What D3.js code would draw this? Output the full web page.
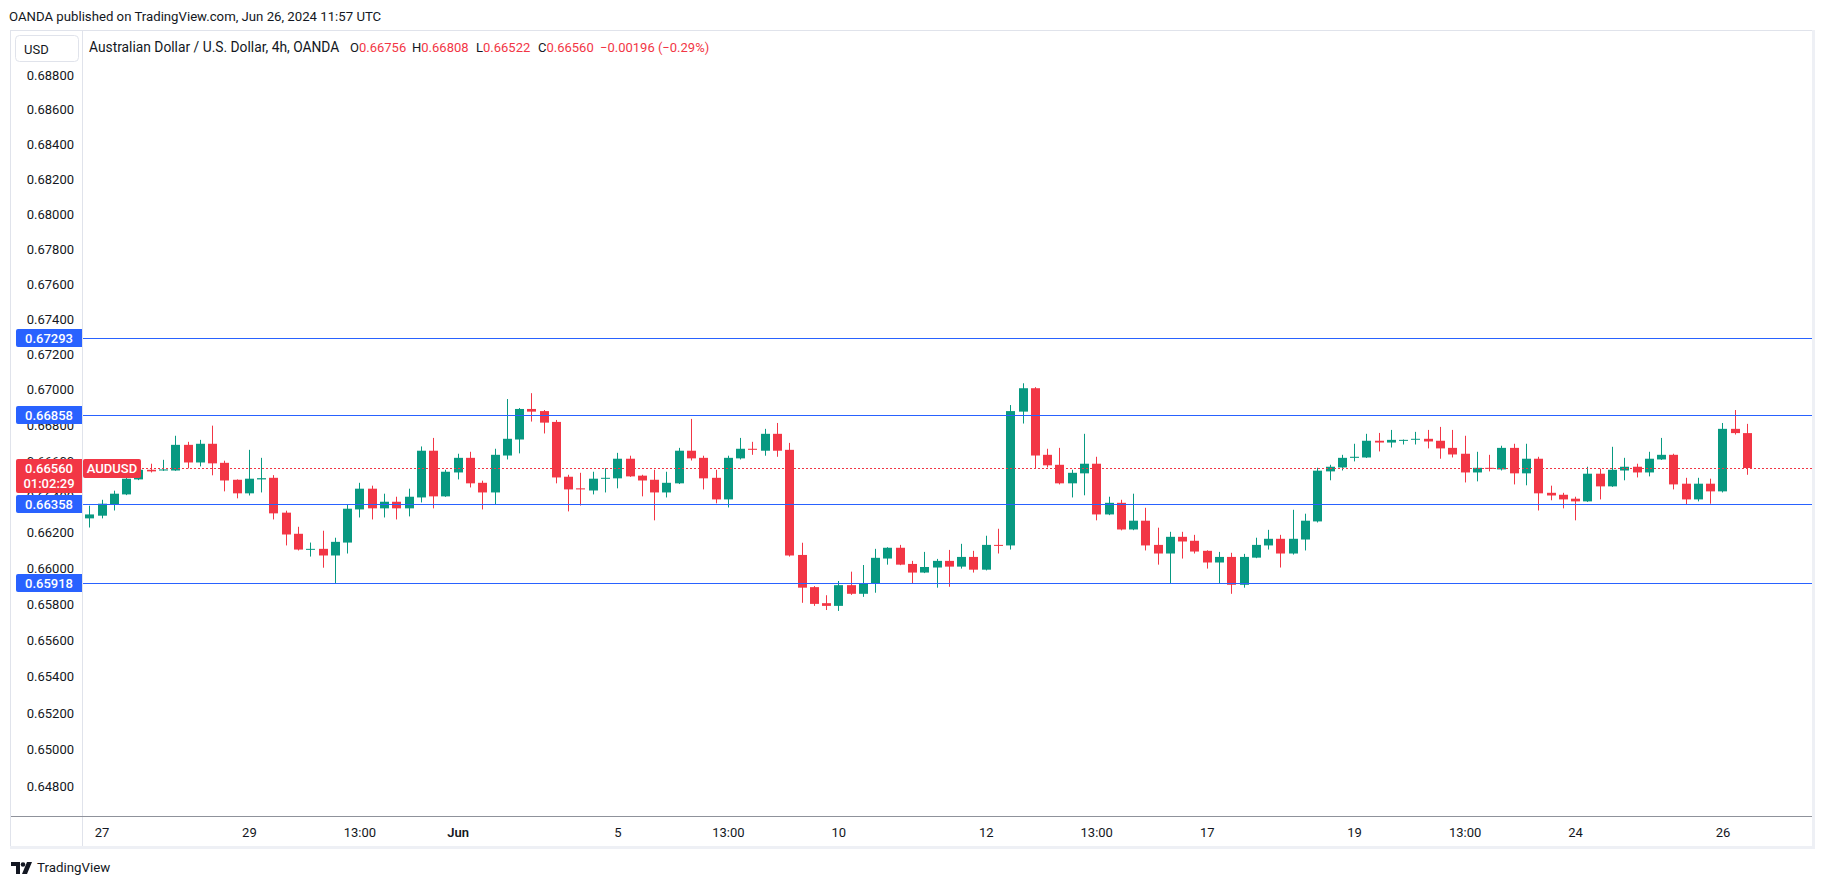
<!DOCTYPE html>
<html><head><meta charset="utf-8">
<script src="https://cdn.jsdelivr.net/npm/d3@7"></script>
<style>html,body{margin:0;padding:0;background:#fff;}svg{display:block;font-family:Roboto,"Noto Sans",sans-serif;}</style>
</head><body><svg id="c" width="1825" height="886"></svg>
<script>
// ---- data (AUDUSD 4h, OANDA) ----
const opens=[0.66278,0.66293,0.66358,0.66412,0.66496,0.66550,0.66546,0.66546,0.66690,0.66591,
0.66696,0.66589,0.66494,0.66418,0.66496,0.66505,0.66310,0.66192,0.66104,0.66108,
0.66071,0.66143,0.66328,0.66444,0.66334,0.66371,0.66334,0.66395,0.66657,0.66401,
0.66535,0.66617,0.66477,0.66423,0.66630,0.66720,0.66892,0.66880,0.66819,0.66511,
0.66446,0.66434,0.66500,0.66502,0.66612,0.66517,0.66494,0.66423,0.66474,0.66657,
0.66617,0.66505,0.66384,0.66614,0.66668,0.66657,0.66752,0.66662,0.66074,0.65895,
0.65806,0.65791,0.65906,0.65858,0.65914,0.66054,0.66114,0.66024,0.65976,0.66004,
0.66041,0.66009,0.66063,0.65992,0.66130,0.66127,0.66877,0.67009,0.66634,0.66578,
0.66474,0.66530,0.66584,0.66300,0.66365,0.66216,0.66265,0.66130,0.66082,0.66175,
0.66153,0.66097,0.66032,0.66063,0.65908,0.66059,0.66127,0.66164,0.66082,0.66160,
0.66261,0.66541,0.66563,0.66617,0.66619,0.66713,0.66703,0.66714,0.66720,0.66724,
0.66713,0.66673,0.66640,0.66535,0.66561,0.66552,0.66673,0.66530,0.66612,0.66421,
0.66410,0.66388,0.66373,0.66528,0.66457,0.66546,0.66567,0.66535,0.66608,0.66634,
0.66472,0.66384,0.66472,0.66429,0.66780,0.66756];
const highs=[0.66349,0.66382,0.66433,0.66513,0.66565,0.66584,0.66606,0.66741,0.66707,0.66718,
0.66798,0.66601,0.66496,0.66662,0.66617,0.66520,0.66321,0.66231,0.66143,0.66209,
0.66170,0.66356,0.66477,0.66461,0.66416,0.66399,0.66444,0.66681,0.66729,0.66550,
0.66640,0.66651,0.66489,0.66668,0.66948,0.66897,0.66981,0.66886,0.66830,0.66522,
0.66533,0.66539,0.66559,0.66645,0.66629,0.66522,0.66550,0.66539,0.66673,0.66836,
0.66629,0.66550,0.66629,0.66729,0.66707,0.66780,0.66813,0.66701,0.66142,0.65901,
0.65850,0.65929,0.65981,0.66018,0.66108,0.66117,0.66130,0.66041,0.66091,0.66052,
0.66102,0.66136,0.66097,0.66181,0.66220,0.66914,0.67037,0.67015,0.66668,0.66673,
0.66550,0.66752,0.66623,0.66399,0.66382,0.66416,0.66337,0.66226,0.66203,0.66203,
0.66186,0.66100,0.66091,0.66086,0.66080,0.66170,0.66214,0.66186,0.66326,0.66304,
0.66561,0.66578,0.66634,0.66696,0.66752,0.66757,0.66774,0.66720,0.66763,0.66774,
0.66791,0.66774,0.66741,0.66651,0.66634,0.66685,0.66696,0.66696,0.66623,0.66461,
0.66421,0.66399,0.66567,0.66556,0.66679,0.66617,0.66584,0.66651,0.66729,0.66640,
0.66505,0.66505,0.66500,0.66813,0.66886,0.66808];
const lows=[0.66227,0.66278,0.66322,0.66408,0.66492,0.66535,0.66544,0.66544,0.66558,0.66569,
0.66519,0.66429,0.66390,0.66406,0.66423,0.66272,0.66127,0.66099,0.66065,0.66003,
0.65918,0.66082,0.66283,0.66272,0.66283,0.66272,0.66289,0.66367,0.66334,0.66398,
0.66496,0.66451,0.66328,0.66358,0.66608,0.66642,0.66821,0.66754,0.66474,0.66317,
0.66350,0.66412,0.66423,0.66446,0.66510,0.66401,0.66267,0.66395,0.66470,0.66602,
0.66440,0.66362,0.66339,0.66608,0.66634,0.66629,0.66623,0.66065,0.65808,0.65791,
0.65768,0.65763,0.65852,0.65841,0.65864,0.66020,0.66017,0.65916,0.65973,0.65892,
0.65897,0.65998,0.65976,0.65988,0.66082,0.66104,0.66810,0.66558,0.66563,0.66468,
0.66395,0.66407,0.66267,0.66296,0.66211,0.66212,0.66099,0.66020,0.65916,0.66054,
0.66082,0.65998,0.65916,0.65858,0.65892,0.66056,0.66104,0.66004,0.66076,0.66099,
0.66255,0.66491,0.66546,0.66597,0.66616,0.66653,0.66675,0.66692,0.66692,0.66670,
0.66612,0.66619,0.66479,0.66485,0.66541,0.66546,0.66468,0.66463,0.66322,0.66379,
0.66334,0.66267,0.66370,0.66384,0.66454,0.66491,0.66507,0.66513,0.66605,0.66440,
0.66356,0.66373,0.66360,0.66423,0.66748,0.66522];
const closes=[0.66300,0.66360,0.66416,0.66500,0.66550,0.66541,0.66552,0.66690,0.66591,0.66696,
0.66586,0.66490,0.66418,0.66500,0.66503,0.66306,0.66188,0.66104,0.66108,0.66071,
0.66147,0.66332,0.66444,0.66334,0.66371,0.66334,0.66399,0.66657,0.66401,0.66539,
0.66617,0.66474,0.66423,0.66634,0.66724,0.66892,0.66877,0.66815,0.66507,0.66440,
0.66440,0.66500,0.66505,0.66612,0.66513,0.66490,0.66423,0.66477,0.66657,0.66614,
0.66502,0.66384,0.66617,0.66668,0.66662,0.66752,0.66657,0.66071,0.65892,0.65802,
0.65791,0.65906,0.65858,0.65918,0.66058,0.66114,0.66020,0.65976,0.66007,0.66041,
0.66009,0.66063,0.65992,0.66130,0.66127,0.66880,0.67009,0.66630,0.66575,0.66474,
0.66533,0.66584,0.66300,0.66365,0.66216,0.66265,0.66127,0.66082,0.66175,0.66149,
0.66093,0.66032,0.66063,0.65908,0.66063,0.66130,0.66164,0.66082,0.66164,0.66265,
0.66545,0.66567,0.66617,0.66623,0.66713,0.66703,0.66718,0.66718,0.66724,0.66709,
0.66670,0.66636,0.66535,0.66561,0.66558,0.66673,0.66530,0.66612,0.66418,0.66406,
0.66384,0.66373,0.66528,0.66457,0.66550,0.66567,0.66535,0.66612,0.66634,0.66468,
0.66384,0.66472,0.66429,0.66780,0.66756,0.66560];

const xTickBars=[1,13,22,30,43,52,61,73,82,91,103,112,121,133];
const xTickLabels=["27","29","13:00","Jun","5","13:00","10","12","13:00","17","19","13:00","24","26"];
const yTicks=[0.648,0.650,0.652,0.654,0.656,0.658,0.660,0.662,0.664,0.666,0.668,0.670,0.672,0.674,0.676,0.678,0.680,0.682,0.684,0.686,0.688];
const levels=[0.67293,0.66858,0.66358,0.65918];
const lastPrice=0.66560;
const countdown="01:02:29";

// ---- layout ----
const svg=d3.select("#c");
const L=82,R=1812,T=31,B=816;
const GREEN="#089981",RED="#F23645",BLUE="#2962FF",TXT="#131722";
const x=d3.scaleLinear().domain([-0.594,140.29]).range([L,R]);
const y=d3.scaleLog().domain([0.646361,0.690572]).range([B,T]);
const bars=d3.range(opens.length).map(i=>({i,o:opens[i],h:highs[i],l:lows[i],c:closes[i]}));

// header
svg.append("text").attr("x",9).attr("y",16).attr("dominant-baseline","central")
 .attr("font-size",13.2).attr("fill",TXT).text("OANDA published on TradingView.com, Jun 26, 2024 11:57 UTC");

// frame
svg.append("rect").attr("x",10.5).attr("y",30.5).attr("width",1803).attr("height",816)
 .attr("fill","none").attr("stroke","#e0e3eb").attr("stroke-width",1);
svg.append("rect").attr("x",1812).attr("y",30).attr("width",3).attr("height",819).attr("fill","#eef0f5");
svg.append("rect").attr("x",10).attr("y",846).attr("width",1805).attr("height",3).attr("fill","#eef0f5");

const plot=svg.append("g");
plot.append("clipPath").attr("id","clip").append("rect").attr("x",L).attr("y",T).attr("width",R-L).attr("height",B-T);

// candles
const cg=plot.append("g").attr("clip-path","url(#clip)");
const bw=9;
cg.selectAll("line.w").data(bars).join("line")
 .attr("x1",d=>Math.round(x(d.i))+0.5).attr("x2",d=>Math.round(x(d.i))+0.5)
 .attr("y1",d=>y(d.h)).attr("y2",d=>y(d.l))
 .attr("stroke",d=>d.c>=d.o?GREEN:RED).attr("stroke-width",1);
cg.selectAll("rect.b").data(bars).join("rect")
 .attr("x",d=>Math.round(x(d.i))+0.5-bw/2).attr("width",bw)
 .attr("y",d=>y(Math.max(d.o,d.c)))
 .attr("height",d=>Math.max(1,Math.abs(y(d.o)-y(d.c))))
 .attr("fill",d=>d.c>=d.o?GREEN:RED);

// horizontal levels
cg.selectAll("line.lv").data(levels).join("line")
 .attr("x1",L).attr("x2",R).attr("y1",d=>Math.round(y(d))+0.5).attr("y2",d=>Math.round(y(d))+0.5)
 .attr("stroke",BLUE).attr("stroke-width",1.2);
// last price dotted line
cg.append("line").attr("x1",L).attr("x2",R).attr("y1",Math.round(y(lastPrice))+0.5).attr("y2",Math.round(y(lastPrice))+0.5)
 .attr("stroke",RED).attr("stroke-width",1).attr("stroke-dasharray","2,2");

// separators
svg.append("line").attr("x1",L+0.5).attr("x2",L+0.5).attr("y1",31).attr("y2",846).attr("stroke","#e0e3eb");
svg.append("line").attr("x1",11).attr("x2",R).attr("y1",B+0.5).attr("y2",B+0.5).attr("stroke","#8f929b");

// y axis
const yAxis=d3.axisLeft(y).tickValues(yTicks).tickSize(0).tickPadding(0).tickFormat(d3.format(".5f"));
const yg=svg.append("g").attr("transform",`translate(74,0)`).call(yAxis);
yg.select(".domain").remove();
yg.selectAll("text").attr("font-size",13).attr("fill",TXT).attr("font-family","Roboto,sans-serif");

// x axis
const xAxis=d3.axisBottom(x).tickValues(xTickBars).tickSize(0).tickPadding(0)
 .tickFormat((d,k)=>xTickLabels[k]);
const xg=svg.append("g").attr("transform",`translate(0,${B+11.5})`).call(xAxis);
xg.select(".domain").remove();
xg.selectAll("text").attr("font-size",13).attr("fill",TXT).attr("font-family","Roboto,sans-serif")
 .attr("font-weight",(d,k)=>xTickLabels[k]==="Jun"?600:400);

// USD box
svg.append("rect").attr("x",15.5).attr("y",35.5).attr("width",63).attr("height",26).attr("rx",4)
 .attr("fill","#fff").attr("stroke","#e0e3eb");
svg.append("text").attr("x",24).attr("y",49).attr("dominant-baseline","central").attr("font-size",13)
 .attr("fill",TXT).text("USD");

// legend
const lg=svg.append("g").attr("font-size",13);
lg.append("text").attr("x",89).attr("y",47).attr("dominant-baseline","central").attr("fill",TXT)
 .attr("font-size",13.8).text("Australian Dollar / U.S. Dollar, 4h, OANDA");
const ohlc=[["O",opens[135],350],["H",highs[135],412],["L",lows[135],476],["C",closes[135],538]];
ohlc.forEach(([k,v,px])=>{
 const t=lg.append("text").attr("x",px).attr("y",47).attr("dominant-baseline","central");
 t.append("tspan").attr("fill",TXT).text(k);
 t.append("tspan").attr("fill",RED).text(v.toFixed(5));
});
lg.append("text").attr("x",600).attr("y",47).attr("dominant-baseline","central").attr("fill",RED)
 .text("\u22120.00196 (\u22120.29%)");

// level tags on y axis
function tagPath(x0,y0,w,h,r){return `M${x0+r},${y0}H${x0+w}V${y0+h}H${x0+r}Q${x0},${y0+h} ${x0},${y0+h-r}V${y0+r}Q${x0},${y0} ${x0+r},${y0}Z`;}
levels.forEach(v=>{
 const yy=Math.round(y(v));
 svg.append("path").attr("d",tagPath(16,yy-9,66,18,2)).attr("fill",BLUE);
 svg.append("text").attr("x",49).attr("y",yy+0.5).attr("text-anchor","middle").attr("dominant-baseline","central")
  .attr("font-size",13).attr("font-weight",500).attr("fill","#fff").text(v.toFixed(5));
});
// last price tag
const ly=Math.round(y(lastPrice));
svg.append("path").attr("d",tagPath(16,ly-9,66,34,2)).attr("fill",RED);
svg.append("text").attr("x",49).attr("y",ly+0.5).attr("text-anchor","middle").attr("dominant-baseline","central")
 .attr("font-size",13).attr("font-weight",500).attr("fill","#fff").text(lastPrice.toFixed(5));
svg.append("text").attr("x",49).attr("y",ly+15.5).attr("text-anchor","middle").attr("dominant-baseline","central")
 .attr("font-size",13).attr("font-weight",500).attr("fill","#fff").text(countdown);
svg.append("rect").attr("x",83).attr("y",ly-9).attr("width",58).attr("height",19).attr("rx",2).attr("fill",RED);
svg.append("text").attr("x",112).attr("y",ly+0.5).attr("text-anchor","middle").attr("dominant-baseline","central")
 .attr("font-size",13).attr("font-weight",500).attr("fill","#fff").text("AUDUSD");

// TradingView logo
const lgo=svg.append("g").attr("fill",TXT);
lgo.append("path").attr("d","M11,862H20V874H16V866H11Z");
lgo.append("circle").attr("cx",23).attr("cy",864.5).attr("r",2.3);
lgo.append("path").attr("d","M27,862H32L27,874H22Z");
svg.append("text").attr("x",37).attr("y",867).attr("dominant-baseline","central").attr("font-size",13.3)
 .attr("fill",TXT).text("TradingView");
</script></body></html>
